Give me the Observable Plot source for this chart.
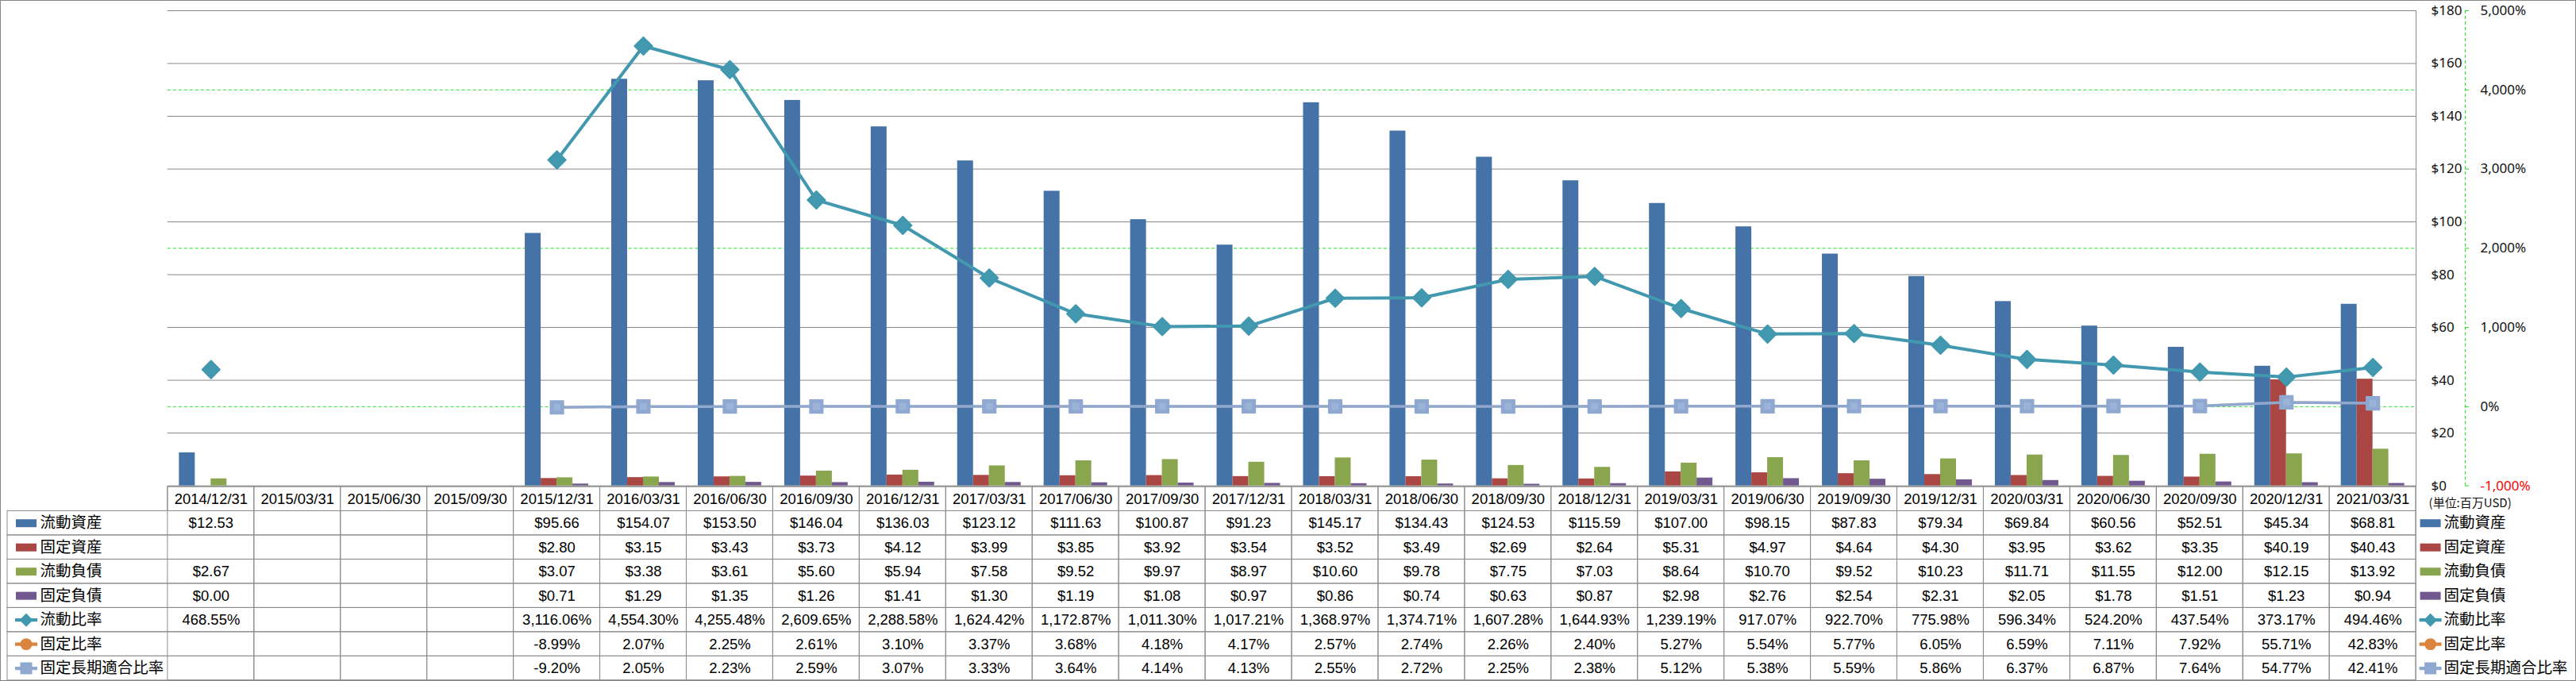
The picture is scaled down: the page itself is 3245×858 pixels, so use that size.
<!DOCTYPE html>
<html>
<head>
<meta charset="utf-8">
<script src="https://cdn.jsdelivr.net/npm/d3@7"></script>
<script src="https://cdn.jsdelivr.net/npm/@observablehq/plot@0.6"></script>
<style>
  html, body { margin: 0; padding: 0; background: #fff; }
  #wrap { position: relative; width: 3245px; height: 858px; box-sizing: border-box; border: 1px solid #878787; }
  #wrap svg { position: absolute; left: -1px; background: transparent; }
</style>
</head>
<body>
<div id="wrap"></div>
<script>
// ---------- data ----------
const dates = ["2014/12/31","2015/03/31","2015/06/30","2015/09/30","2015/12/31","2016/03/31","2016/06/30","2016/09/30","2016/12/31","2017/03/31","2017/06/30","2017/09/30","2017/12/31","2018/03/31","2018/06/30","2018/09/30","2018/12/31","2019/03/31","2019/06/30","2019/09/30","2019/12/31","2020/03/31","2020/06/30","2020/09/30","2020/12/31","2021/03/31"];
const currentAssets = [12.53,null,null,null,95.66,154.07,153.50,146.04,136.03,123.12,111.63,100.87,91.23,145.17,134.43,124.53,115.59,107.00,98.15,87.83,79.34,69.84,60.56,52.51,45.34,68.81];
const fixedAssets = [null,null,null,null,2.80,3.15,3.43,3.73,4.12,3.99,3.85,3.92,3.54,3.52,3.49,2.69,2.64,5.31,4.97,4.64,4.30,3.95,3.62,3.35,40.19,40.43];
const currentLiabilities = [2.67,null,null,null,3.07,3.38,3.61,5.60,5.94,7.58,9.52,9.97,8.97,10.60,9.78,7.75,7.03,8.64,10.70,9.52,10.23,11.71,11.55,12.00,12.15,13.92];
const fixedLiabilities = [0.00,null,null,null,0.71,1.29,1.35,1.26,1.41,1.30,1.19,1.08,0.97,0.86,0.74,0.63,0.87,2.98,2.76,2.54,2.31,2.05,1.78,1.51,1.23,0.94];
const currentRatio = [468.55,null,null,null,3116.06,4554.30,4255.48,2609.65,2288.58,1624.42,1172.87,1011.30,1017.21,1368.97,1374.71,1607.28,1644.93,1239.19,917.07,922.70,775.98,596.34,524.20,437.54,373.17,494.46];
const fixedRatio = [null,null,null,null,-8.99,2.07,2.25,2.61,3.10,3.37,3.68,4.18,4.17,2.57,2.74,2.26,2.40,5.27,5.54,5.77,6.05,6.59,7.11,7.92,55.71,42.83];
const fixedLongTermRatio = [null,null,null,null,-9.20,2.05,2.23,2.59,3.07,3.33,3.64,4.14,4.13,2.55,2.72,2.25,2.38,5.12,5.38,5.59,5.86,6.37,6.87,7.64,54.77,42.41];
const seriesNames = ["流動資産","固定資産","流動負債","固定負債","流動比率","固定比率","固定長期適合比率"];
const usdTicks = [0,20,40,60,80,100,120,140,160,180];
const pctTicks = [-1000,0,1000,2000,3000,4000,5000];
const pctGrid = [0,2000,4000];
const unitLabel = "(単位:百万USD)";

// ---------- styling ----------
const colors = ["#4572A7","#AA4643","#89A54E","#71588F","#4198AF","#DB843D","#8FA8D0"];
const kinds = ["bar","bar","bar","bar","diamond","circle","square"];
const GRID = "#868686";
const GREEN = "#22e022";
const BORDER = "#8c8c8c";
const NUMFONT = "'Liberation Sans', Arial, sans-serif";
const AXFONT = "'Noto Sans', 'DejaVu Sans', sans-serif";
const CJKFONT = "'Noto Sans CJK JP', 'Noto Sans CJK SC', sans-serif";

const W = 3245, ML = 211, MR = 200;
const pctToUsd = p => (p + 1000) * 180 / 6000;   // secondary axis mapped onto primary

const loc = d3.formatLocale({decimal: ".", thousands: ",", grouping: [3], currency: ["$", ""], minus: "-"});
const fmtUsd = loc.format("$,.2f");
const fmtPct = v => loc.format(",.2f")(v) + "%";
const fmtTickPct = v => loc.format(",d")(v) + "%";

const allSeries = [currentAssets, fixedAssets, currentLiabilities, fixedLiabilities, currentRatio, fixedRatio, fixedLongTermRatio];
const toRecords = arr => dates.map((date, i) => ({date, v: arr[i]}));

// ---------- main chart ----------
const barMarks = [0,1,2,3].map(k =>
  Plot.barY(toRecords(allSeries[k]).filter(d => d.v != null), {
    x: "date", y1: 0, y2: "v", fill: colors[k],
    insetLeft: 44.5, insetRight: 44.5, dx: -30 + 20 * k
  })
);
const ratioY = d => d.v == null ? NaN : pctToUsd(d.v);

const main = Plot.plot({
  width: W, height: 858,
  marginLeft: ML, marginRight: MR, marginTop: 13, marginBottom: 246,
  x: {type: "band", domain: dates, padding: 0, round: false, axis: null},
  y: {type: "linear", domain: [0, 180], axis: null},
  style: {background: "transparent", overflow: "visible"},
  marks: [
    Plot.ruleY(usdTicks, {stroke: GRID, strokeWidth: 1}),
    Plot.ruleY(pctGrid, {y: pctToUsd, stroke: GREEN, strokeDasharray: "4,3"}),
    Plot.frame({anchor: "right", stroke: GRID}),
    ...barMarks,
    // 固定比率 (mostly hidden under 固定長期適合比率)
    Plot.line(toRecords(fixedRatio), {x: "date", y: ratioY, stroke: colors[5], strokeOpacity: 0.35, strokeWidth: 3.5}),
    Plot.dot(toRecords(fixedRatio), {x: "date", y: ratioY, r: 6, fill: colors[5], stroke: "none", symbol: "circle"}),
    // 固定長期適合比率
    Plot.line(toRecords(fixedLongTermRatio), {x: "date", y: ratioY, stroke: colors[6], strokeWidth: 3.5}),
    Plot.dot(toRecords(fixedLongTermRatio), {x: "date", y: ratioY, r: 9.4, symbol: "square", fill: colors[6], stroke: colors[6], strokeWidth: 1.5, strokeLinejoin: "round"}),
    Plot.dot(toRecords(fixedLongTermRatio), {x: "date", y: ratioY, r: 5, symbol: "square", fill: "#9cb3d9", stroke: "none"}),
    // 流動比率
    Plot.line(toRecords(currentRatio), {x: "date", y: ratioY, stroke: colors[4], strokeWidth: 4, strokeLinejoin: "round"}),
    Plot.dot(toRecords(currentRatio), {x: "date", y: ratioY, r: 10, symbol: "diamond2", fill: colors[4], stroke: colors[4], strokeWidth: 2, strokeLinejoin: "round"}),
    // primary axis labels ($) on the right
    Plot.text(usdTicks, {y: d => d, text: d => "$" + d, frameAnchor: "right", dx: 19, textAnchor: "start",
      fontFamily: AXFONT, fontSize: 17, fill: "#111"}),
    // secondary axis (%)
    Plot.ruleX([0], {x: null, dx: 1479, stroke: GREEN, strokeDasharray: "4,3"}),
    Plot.ruleY(pctTicks, {y: pctToUsd, stroke: GREEN, insetLeft: 2896, insetRight: -67}),
    Plot.text(pctTicks.filter(d => d >= 0), {y: pctToUsd, text: fmtTickPct, frameAnchor: "right", dx: 81, textAnchor: "start",
      fontFamily: AXFONT, fontSize: 17, fill: "#111"}),
    Plot.text(pctTicks.filter(d => d < 0), {y: pctToUsd, text: fmtTickPct, frameAnchor: "right", dx: 81, textAnchor: "start",
      fontFamily: AXFONT, fontSize: 17, fill: "#ff0000"})
  ]
});
main.style.top = "-1px";

// ---------- data table ----------
const HEADER = "__header";
const cellRows = [];
seriesNames.forEach((name, k) => {
  dates.forEach((date, i) => {
    const v = allSeries[k][i];
    if (v == null) return;
    cellRows.push({row: name, date, label: k < 4 ? fmtUsd(v) : fmtPct(v)});
  });
});

function swatch(kind) {
  return {
    draw(ctx) {
      if (kind === "bar") { ctx.rect(-13, -5, 26, 10); return; }
      ctx.rect(-14, -2.2, 28, 4.4);
      if (kind === "diamond") {
        ctx.moveTo(0, -8.5); ctx.lineTo(8.5, 0); ctx.lineTo(0, 8.5); ctx.lineTo(-8.5, 0); ctx.closePath();
      } else if (kind === "circle") {
        ctx.moveTo(7.5, 0); ctx.arc(0, 0, 7.5, 0, 2 * Math.PI);
      } else {
        ctx.rect(-7.5, -7.5, 15, 15);
      }
    }
  };
}
const swatchMarks = seriesNames.flatMap((name, k) => [
  Plot.dot([name], {y: d => d, frameAnchor: "left", dx: 32.5 - ML, symbol: swatch(kinds[k]), fill: colors[k], stroke: "none"}),
  Plot.dot([name], {y: d => d, frameAnchor: "right", dx: 18, symbol: swatch(kinds[k]), fill: colors[k], stroke: "none"})
]);

const table = Plot.plot({
  width: W, height: 246,
  marginLeft: ML, marginRight: MR, marginTop: 1, marginBottom: 1,
  x: {type: "band", domain: dates, padding: 0, round: false, axis: null},
  y: {type: "band", domain: [HEADER, ...seriesNames], padding: 0, round: false, axis: null},
  style: {background: "transparent", overflow: "visible"},
  marks: [
    Plot.cell(dates, {x: d => d, fill: "none", stroke: BORDER, inset: 0}),
    Plot.cell([HEADER], {y: d => d, fill: "none", stroke: BORDER, inset: 0}),
    Plot.cell(seriesNames, {y: d => d, fill: "none", stroke: BORDER, inset: 0, insetLeft: -202}),
    Plot.text(dates, {x: d => d, y: () => HEADER, text: d => d, fontFamily: NUMFONT, fontSize: 18.5, fill: "#000"}),
    Plot.text(cellRows, {x: "date", y: "row", text: "label", fontFamily: NUMFONT, fontSize: 18.5, fill: "#000"}),
    Plot.text(seriesNames, {y: d => d, text: d => d, frameAnchor: "left", dx: 50 - ML, textAnchor: "start",
      fontFamily: CJKFONT, fontSize: 19.5, fill: "#000"}),
    Plot.text(seriesNames, {y: d => d, text: d => d, frameAnchor: "right", dx: 35, textAnchor: "start",
      fontFamily: CJKFONT, fontSize: 19.5, fill: "#000"}),
    Plot.text([unitLabel], {y: () => HEADER, text: d => d, frameAnchor: "right", dx: 16, dy: 5, textAnchor: "start",
      fontFamily: CJKFONT, fontSize: 15, fill: "#111"}),
    ...swatchMarks
  ]
});
table.style.top = "611px";

const wrap = document.getElementById("wrap");
wrap.appendChild(main);
wrap.appendChild(table);
</script>
</body>
</html>
